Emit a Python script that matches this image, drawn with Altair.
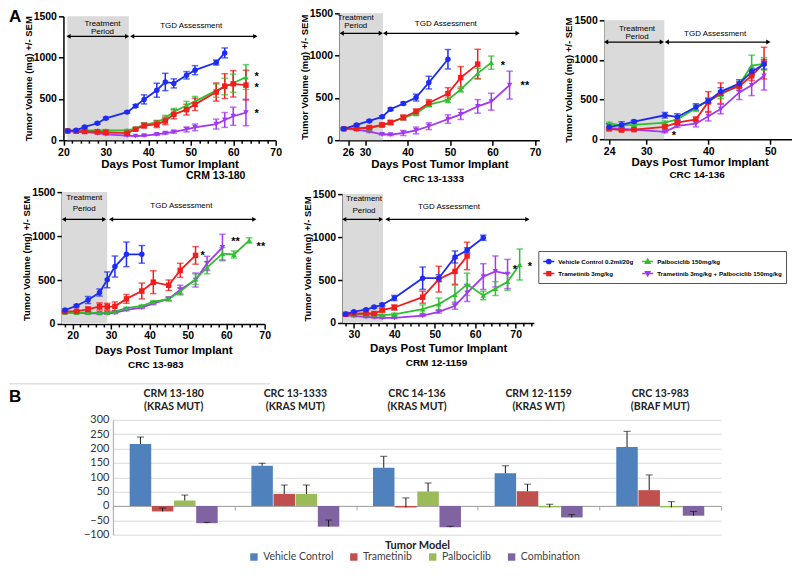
import altair as alt
import pandas as pd

FONT = "Liberation Sans"
BFONT = "Lato"
W, H = 784, 550  # drawing canvas (page minus 8px margin)

SERIES = ["Vehicle Control 0.2ml/20g", "Trametinib 3mg/kg", "Palbociclib 150mg/kg",
          "Trametinib 3mg/kg + Palbociclib 150mg/kg"]
LINE_COLORS = ["#1c2cf5", "#f21d1d", "#2fbf2f", "#a238f2"]
MARKERS = ["circle", "square", "triangle-up", "triangle-down"]
LEGEND_MARKERS = [
    "M-1,0L1,0M-0.38,0A0.38,0.38,0,1,1,0.38,0A0.38,0.38,0,1,1,-0.38,0Z",
    "M-1,0L1,0M-0.34,-0.34L0.34,-0.34L0.34,0.34L-0.34,0.34Z",
    "M-1,0L1,0M0,-0.42L0.4,0.3L-0.4,0.3Z",
    "M-1,0L1,0M0,0.42L0.4,-0.3L-0.4,-0.3Z",
]

# ---------------- Panel A1 : CRM 13-180 ----------------
crm13180_days = [21, 23, 25, 28, 30, 35, 37, 39, 42, 44, 46, 49, 51, 56, 58, 60, 63]
crm13180_veh = [112, 120, 160, 205, 265, 340, 414, 494, 605, 705, 688, 786, 848, 940, 1057]
crm13180_veh_sem = [10, 10, 12, 12, 12, 12, 15, 55, 85, 105, 55, 45, 55, 30, 60]
crm13180_tra = [112, 108, 105, 100, 95, 85, 133, 177, 193, 233, 313, 370, 434, 583, 655, 683, 667]
crm13180_tra_sem = [8, 8, 8, 8, 8, 8, 15, 30, 40, 45, 55, 65, 75, 110, 150, 160, 180]
crm13180_pal = [112, 118, 120, 120, 120, 120, 140, 190, 215, 270, 345, 420, 470, 600, 650, 690, 765]
crm13180_pal_sem = [8, 8, 8, 8, 8, 10, 15, 20, 25, 30, 40, 50, 60, 80, 100, 110, 150]
crm13180_com = [110, 102, 97, 85, 70, 55, 50, 55, 70, 85, 100, 130, 155, 195, 245, 290, 335]
crm13180_com_sem = [5, 5, 5, 5, 5, 5, 5, 8, 10, 12, 15, 30, 40, 60, 90, 110, 160]
crm13180_treatment = [20.9, 35.4]
crm13180_arrow_from = [21.2, 36.2]
crm13180_arrow_to = [35.0, 65.2]
crm13180_arrow_level = [1258, 1258]
crm13180_notes = ["Treatment", "Period", "TGD Assessment"]
crm13180_notes_day = [29.2, 29.2, 50.1]
crm13180_notes_vol = [1410, 1307, 1379]
crm13180_stars = ["*", "*", "*"]
crm13180_stars_day = [65, 65, 65]
crm13180_stars_vol = [802, 665, 351]

# ---------------- Panel A2 : CRC 13-1333 ----------------
crc131333_days = [25, 28, 31, 34, 36, 39, 42, 45, 49.5, 52.5, 56.5, 59.7, 64]
crc131333_veh = [135, 181, 228, 276, 366, 433, 504, 681, 957]
crc131333_veh_sem = [10, 10, 10, 12, 15, 15, 40, 75, 115]
crc131333_tra = [135, 138, 150, 181, 209, 268, 339, 440, 551, 740, 900]
crc131333_tra_sem = [10, 10, 15, 20, 25, 30, 30, 40, 70, 130, 175]
crc131333_pal = [135, 135, 140, 175, 210, 265, 315, 420, 475, 600, 790, 917]
crc131333_pal_sem = [10, 10, 10, 12, 15, 20, 25, 25, 30, 30, 60, 78]
crc131333_com = [135, 125, 100, 70, 65, 85, 115, 165, 250, 305, 400, 455, 651]
crc131333_com_sem = [10, 8, 8, 8, 10, 30, 40, 40, 50, 60, 80, 100, 165]
crc131333_treatment = [24, 34.2]
crc131333_arrow_from = [24.5, 34.7]
crc131333_arrow_to = [33.7, 65.9]
crc131333_arrow_level = [1264, 1264]
crc131333_notes = ["Treatment", "Period", "TGD Assessment"]
crc131333_notes_day = [27.8, 27.8, 49]
crc131333_notes_vol = [1444, 1346, 1378]
crc131333_stars = ["*", "**"]
crc131333_stars_day = [61.9, 66.6]
crc131333_stars_vol = [913, 677]

# ---------------- Panel A3 : CRC 14-136 ----------------
crc14136_days = [24, 26, 28, 33, 35, 38, 40, 42, 45, 47, 49]
crc14136_veh = [155, 180, 223, 302, 281, 407, 483, 600, 701, 853, 945]
crc14136_veh_sem = [40, 40, 15, 35, 40, 40, 30, 50, 50, 40, 60]
crc14136_tra = [130, 115, 120, 155, 210, 250, 470, 580, 670, 800, 960]
crc14136_tra_sem = [10, 10, 10, 25, 30, 30, 130, 130, 50, 60, 200]
crc14136_pal = [200, 175, 180, 210, 250, 390, 490, 560, 690, 930, 950]
crc14136_pal_sem = [15, 15, 15, 20, 25, 40, 30, 50, 40, 130, 80]
crc14136_com = [140, 130, 120, 92, 168, 195, 290, 380, 590, 680, 800]
crc14136_com_sem = [10, 10, 10, 10, 20, 40, 60, 60, 90, 130, 180]
crc14136_treatment = [23.2, 32.9]
crc14136_arrow_from = [23.5, 33.3]
crc14136_arrow_to = [32.5, 49.7]
crc14136_arrow_level = [1226, 1226]
crc14136_notes = ["Treatment", "Period", "TGD Assessment"]
crc14136_notes_day = [28.5, 28.5, 41.1]
crc14136_notes_vol = [1395, 1289, 1332]
crc14136_stars = ["*"]
crc14136_stars_day = [34.1]
crc14136_stars_vol = [72]

# ---------------- Panel A4 : CRC 13-983 ----------------
crc13983_days = [18, 21, 24, 27, 29, 31, 34, 38, 41, 45, 48, 52, 55, 59, 62, 66]
crc13983_veh = [158, 207, 272, 358, 502, 653, 792, 792]
crc13983_veh_sem = [10, 12, 40, 40, 90, 120, 140, 100]
crc13983_tra = [140, 145, 165, 200, 195, 200, 285, 375, 475, 440, 610, 780]
crc13983_tra_sem = [10, 10, 30, 40, 40, 50, 50, 90, 130, 60, 80, 100]
crc13983_pal = [130, 130, 130, 125, 130, 140, 180, 205, 250, 285, 370, 510, 640, 800, 790, 950]
crc13983_pal_sem = [8, 8, 8, 8, 8, 10, 10, 10, 15, 20, 40, 60, 70, 70, 40, 30]
crc13983_com = [130, 125, 120, 120, 120, 125, 160, 185, 235, 285, 390, 500, 690, 870]
crc13983_com_sem = [8, 8, 8, 8, 8, 8, 10, 10, 15, 20, 50, 80, 80, 150]
crc13983_treatment = [17.2, 29]
crc13983_arrow_from = [17.7, 30]
crc13983_arrow_to = [28.2, 67.3]
crc13983_arrow_level = [1190, 1190]
crc13983_notes = ["Treatment", "Period", "TGD Assessment"]
crc13983_notes_day = [23, 23, 48.3]
crc13983_notes_vol = [1428, 1303, 1341]
crc13983_stars = ["*", "**", "**"]
crc13983_stars_day = [53.3, 61.3, 67.9]
crc13983_stars_vol = [810, 962, 906]

# ---------------- Panel A5 : CRM 12-1159 ----------------
crm121159_days = [28, 30, 33, 35, 37, 40, 47, 51, 55, 58, 62, 65, 68, 71]
crm121159_veh = [104, 131, 154, 185, 212, 290, 521, 521, 768, 846, 992]
crm121159_veh_sem = [10, 10, 10, 10, 15, 30, 130, 40, 70, 30, 30]
crm121159_tra = [100, 110, 110, 110, 150, 180, 300, 510, 600, 780]
crm121159_tra_sem = [10, 10, 10, 15, 20, 30, 70, 150, 150, 160]
crm121159_pal = [100, 100, 100, 95, 90, 100, 160, 220, 330, 450, 320, 400, 480, 680]
crm121159_pal_sem = [10, 10, 10, 10, 10, 15, 50, 70, 110, 130, 50, 80, 100, 180]
crm121159_com = [90, 80, 70, 65, 60, 60, 85, 130, 200, 350, 540, 600, 570]
crm121159_com_sem = [8, 8, 8, 8, 8, 8, 10, 15, 40, 100, 150, 180, 170]
crm121159_treatment = [27.2, 37.2]
crm121159_arrow_from = [27.6, 38.3]
crm121159_arrow_to = [36.7, 72.9]
crm121159_arrow_level = [1206, 1206]
crm121159_notes = ["Treatment", "Period", "TGD Assessment"]
crm121159_notes_day = [32.5, 32.5, 53.5]
crm121159_notes_vol = [1439, 1303, 1349]
crm121159_stars = ["*", "*"]
crm121159_stars_day = [69.3, 73]
crm121159_stars_vol = [651, 690]

# ---------------- Panel B : TGD bar chart ----------------
BAR_MODELS = ["CRM 13-180", "CRC 13-1333", "CRC 14-136", "CRM 12-1159", "CRC 13-983"]
BAR_MUTATION = ["(KRAS MUT)", "(KRAS MUT)", "(KRAS MUT)", "(KRAS WT)", "(BRAF MUT)"]
TREATMENTS = ["Vehicle Control", "Trametinib", "Palbociclib", "Combination"]
BAR_COLORS = ["#4f81bd", "#c0504d", "#9bbb59", "#8064a2"]
tgd_vehicle = [216, 140, 133, 114, 205]
tgd_vehicle_err = [24, 9, 40, 26, 55]
tgd_trametinib = [-19, 42, -5, 51, 55]
tgd_trametinib_err = [12, 31, 33, 25, 53]
tgd_palbociclib = [19, 42, 50, -5, -5]
tgd_palbociclib_err = [19, 31, 30, 11, 20]
tgd_combination = [-60, -72, -74, -40, -34]
tgd_combination_err = [3, 23, 3, 10, 15]


def make_df(days, means_list, sems_list):
    rows = []
    for s, means, sems in reversed(list(zip(SERIES, means_list, sems_list))):
        for d, m, e in zip(days, means, sems):
            rows.append({"group": s, "day": d, "mean": m, "sem": e})
    return pd.DataFrame(rows)


def one_row():
    return pd.DataFrame({"k": [0]})


def line_panel(df, xdom, xrange, yrange, ticks, labelled, title_pad, shade, arrows, notes, stars,
               sub, legend_pos=None):
    xs = alt.Scale(domain=xdom, range=xrange, nice=False, zero=False)
    ys = alt.Scale(domain=[0, 1500], range=yrange, nice=False, zero=False)
    test = " || ".join(f"datum.value == {v}" for v in labelled)
    xaxis = alt.Axis(orient="bottom", offset=yrange[0] - H, values=ticks,
                     labelExpr=f"({test}) ? datum.label : ''", title="Days Post Tumor Implant",
                     tickSize={"condition": {"test": test, "value": 5}, "value": 3},
                     grid=False, domainColor="black", domainWidth=1.5, tickColor="black",
                     tickWidth=1.5, labelFont=FONT, labelFontWeight="bold", labelFontSize=10.5,
                     labelColor="black", labelPadding=2, labelFlush=False, labelOverlap=False,
                     titleFont=FONT, titleFontWeight="bold", titleFontSize=11.5,
                     titleColor="black", titlePadding=title_pad)
    yaxis = alt.Axis(orient="left", offset=-xrange[0], values=[0, 500, 1000, 1500], format="d",
                     title="Tumor Volume (mg) +/- SEM", grid=False,
                     domainColor="black", domainWidth=1.5, tickColor="black", tickWidth=1.5,
                     tickSize=5, labelFont=FONT, labelFontWeight="bold", labelFontSize=10.5,
                     labelColor="black", labelPadding=2, labelFlush=False, titleFont=FONT,
                     titleFontWeight="bold", titleFontSize=9.5, titleColor="black", titlePadding=0)

    def X(f):
        return alt.X(f, scale=xs, axis=xaxis)

    def Y(f):
        return alt.Y(f, scale=ys, axis=yaxis)

    cs = alt.Scale(domain=SERIES, range=LINE_COLORS)
    col = alt.Color("group:N", scale=cs, legend=None)

    shade_df = pd.DataFrame({"start": [shade[0]], "end": [shade[1]], "low": [0], "high": [1500]})
    shade_l = alt.Chart(shade_df).mark_rect(color="#dadada").encode(
        x=X("start:Q"), x2="end:Q", y=Y("low:Q"), y2="high:Q")

    arr_df = pd.DataFrame({"x1": arrows[0], "x2": arrows[1], "y": arrows[2]})
    arr_rule = alt.Chart(arr_df).mark_rule(color="black", strokeWidth=1.3).encode(
        x=X("x1:Q"), x2="x2:Q", y=Y("y:Q"))
    head_l = alt.Chart(arr_df).mark_point(shape="triangle-left", filled=True, color="black",
                                          size=24, opacity=1).encode(x=X("x1:Q"), y=Y("y:Q"))
    head_r = alt.Chart(arr_df).mark_point(shape="triangle-right", filled=True, color="black",
                                          size=24, opacity=1).encode(x=X("x2:Q"), y=Y("y:Q"))

    notes_df = pd.DataFrame({"t": notes[0], "x": notes[1], "y": notes[2]})
    notes_l = alt.Chart(notes_df).mark_text(font=FONT, fontSize=8, color="black").encode(
        x=X("x:Q"), y=Y("y:Q"), text="t:N")

    eb = alt.Chart(df).transform_calculate(lo="datum.mean - datum.sem", hi="datum.mean + datum.sem")
    err = eb.mark_rule(strokeWidth=1.5).encode(x=X("day:Q"), y=Y("lo:Q"), y2="hi:Q", color=col)
    caps = eb.transform_fold(["lo", "hi"], as_=["end", "v"]).mark_tick(
        orient="horizontal", size=6.5, thickness=1.5).encode(x=X("day:Q"), y=Y("v:Q"), color=col)
    lines = alt.Chart(df).mark_line(strokeWidth=1.8).encode(
        x=X("day:Q"), y=Y("mean:Q"), color=col)
    pts = alt.Chart(df).mark_point(filled=True, size=30, opacity=1).encode(
        x=X("day:Q"), y=Y("mean:Q"), color=col,
        shape=alt.Shape("group:N", scale=alt.Scale(domain=SERIES, range=MARKERS), legend=None))

    stars_df = pd.DataFrame({"t": stars[0], "x": stars[1], "y": stars[2]})
    stars_l = alt.Chart(stars_df).mark_text(font=FONT, fontSize=11, fontWeight="bold",
                                            align="left", dy=3, color="black").encode(
        x=X("x:Q"), y=Y("y:Q"), text="t:N")

    sub_l = alt.Chart(pd.DataFrame({"t": [sub[0]]})).mark_text(
        font=FONT, fontWeight="bold", fontSize=sub[3], color="black").encode(
        x=alt.value(sub[1]), y=alt.value(sub[2]), text="t:N")

    layers = [shade_l, arr_rule, head_l, head_r, notes_l, err, caps, lines, pts, stars_l, sub_l]

    if legend_pos is not None:
        leg = alt.Legend(orient="none", legendX=legend_pos[0], legendY=legend_pos[1], columns=2,
                         gridAlign="none", title=None, labelFont=FONT, labelFontWeight="bold",
                         labelFontSize=6.2, labelColor="black", labelOffset=3, labelLimit=400,
                         symbolSize=121, symbolStrokeWidth=1.5, strokeColor="#555555",
                         fillColor="white", padding=4, rowPadding=0, columnPadding=6)
        layers.append(alt.Chart(df).transform_filter("datum.day < 0").mark_point(
            filled=True, size=121, strokeWidth=1.5, opacity=1).encode(
            x=X("day:Q"), y=Y("mean:Q"),
            color=alt.Color("group:N", scale=cs, legend=leg),
            stroke=alt.Stroke("group:N", scale=cs, legend=leg),
            shape=alt.Shape("group:N", scale=alt.Scale(domain=SERIES, range=LEGEND_MARKERS),
                            legend=leg)))
        return alt.layer(*layers).resolve_scale(color="independent", stroke="independent",
                                                shape="independent")
    return alt.layer(*layers)


p1 = line_panel(
    make_df(crm13180_days, [crm13180_veh, crm13180_tra, crm13180_pal, crm13180_com],
            [crm13180_veh_sem, crm13180_tra_sem, crm13180_pal_sem, crm13180_com_sem]),
    [20, 70], [54.5, 267], [131, 7], list(range(20, 71, 2)), [20, 30, 40, 50, 60, 70], 1,
    crm13180_treatment, [crm13180_arrow_from, crm13180_arrow_to, crm13180_arrow_level],
    [crm13180_notes, crm13180_notes_day, crm13180_notes_vol],
    [crm13180_stars, crm13180_stars_day, crm13180_stars_vol],
    ("CRM 13-180", 207, 166.5, 10.5))

p2 = line_panel(
    make_df(crc131333_days, [crc131333_veh, crc131333_tra, crc131333_pal, crc131333_com],
            [crc131333_veh_sem, crc131333_tra_sem, crc131333_pal_sem, crc131333_com_sem]),
    [24, 71], [331, 531], [131, 4], [26, 30, 40, 50, 60, 70], [26, 30, 40, 50, 60, 70], 1,
    crc131333_treatment, [crc131333_arrow_from, crc131333_arrow_to, crc131333_arrow_level],
    [crc131333_notes, crc131333_notes_day, crc131333_notes_vol],
    [crc131333_stars, crc131333_stars_day, crc131333_stars_vol],
    ("CRC 13-1333", 425, 169.5, 10))

p3 = line_panel(
    make_df(crc14136_days, [crc14136_veh, crc14136_tra, crc14136_pal, crc14136_com],
            [crc14136_veh_sem, crc14136_tra_sem, crc14136_pal_sem, crc14136_com_sem]),
    [23.2, 54], [596, 787], [130, 11], [24, 30, 40, 50], [24, 30, 40, 50], 0,
    crc14136_treatment, [crc14136_arrow_from, crc14136_arrow_to, crc14136_arrow_level],
    [crc14136_notes, crc14136_notes_day, crc14136_notes_vol],
    [crc14136_stars, crc14136_stars_day, crc14136_stars_vol],
    ("CRC 14-136", 689, 166, 10))

p4 = line_panel(
    make_df(crc13983_days, [crc13983_veh, crc13983_tra, crc13983_pal, crc13983_com],
            [crc13983_veh_sem, crc13983_tra_sem, crc13983_pal_sem, crc13983_com_sem]),
    [17.2, 70], [53, 256], [315, 183], list(range(18, 71, 2)), [20, 30, 40, 50, 60, 70], 3,
    crc13983_treatment, [crc13983_arrow_from, crc13983_arrow_to, crc13983_arrow_level],
    [crc13983_notes, crc13983_notes_day, crc13983_notes_vol],
    [crc13983_stars, crc13983_stars_day, crc13983_stars_vol],
    ("CRC 13-983", 147, 356, 10))

p5 = line_panel(
    make_df(crm121159_days, [crm121159_veh, crm121159_tra, crm121159_pal, crm121159_com],
            [crm121159_veh_sem, crm121159_tra_sem, crm121159_pal_sem, crm121159_com_sem]),
    [27.2, 74.5], [334, 525.5], [314, 185], list(range(28, 75, 2)), [30, 40, 50, 60, 70], 2,
    crm121159_treatment, [crm121159_arrow_from, crm121159_arrow_to, crm121159_arrow_level],
    [crm121159_notes, crm121159_notes_day, crm121159_notes_vol],
    [crm121159_stars, crm121159_stars_day, crm121159_stars_vol],
    ("CRM 12-1159", 428, 354, 10), legend_pos=(530, 242))

# ---------------- bar chart ----------------
bar_rows = []
for vals, errs, t in zip([tgd_vehicle, tgd_trametinib, tgd_palbociclib, tgd_combination],
                         [tgd_vehicle_err, tgd_trametinib_err, tgd_palbociclib_err,
                          tgd_combination_err], TREATMENTS):
    for m, v, e in zip(BAR_MODELS, vals, errs):
        bar_rows.append({"model": m, "treat": t, "val": v, "err": e})
bar_df = pd.DataFrame(bar_rows)

BAR_Y0, BAR_Y1 = 526, 411  # pixel range for -100 .. 300
zero_px = BAR_Y0 + (BAR_Y1 - BAR_Y0) * 100 / 400
bx_axis = alt.Axis(orient="bottom", offset=zero_px - H, title="Tumor Model", labels=False,
                   ticks=True, tickBand="extent", tickSize=4, tickColor="#a6a6a6",
                   domainColor="#a6a6a6", grid=False, titleFont=BFONT, titleFontSize=11,
                   titleFontWeight="bold", titleColor="#222222", titlePadding=29)
by_axis = alt.Axis(orient="left", offset=-104, values=list(range(-100, 301, 50)), grid=True,
                   gridColor="#d9d9d9", domainColor="#a6a6a6", ticks=False, labelFont=BFONT,
                   labelFontSize=11, labelColor="#333333", labelPadding=4, title=None)
bxs = alt.Scale(domain=BAR_MODELS, range=[104, 713], paddingInner=0, paddingOuter=0)
bys = alt.Scale(domain=[-100, 300], range=[BAR_Y0, BAR_Y1], nice=False, zero=False)
BX = alt.X("model:N", sort=BAR_MODELS, scale=bxs, axis=bx_axis)
BXO = alt.XOffset("treat:N", sort=TREATMENTS,
                  scale=alt.Scale(domain=TREATMENTS, paddingInner=0.03, paddingOuter=0.76))

bars = alt.Chart(bar_df).mark_bar().encode(
    x=BX, xOffset=BXO, y=alt.Y("val:Q", scale=bys, axis=by_axis), y2=alt.datum(0),
    color=alt.Color("treat:N", sort=TREATMENTS, scale=alt.Scale(domain=TREATMENTS, range=BAR_COLORS),
                    legend=alt.Legend(orient="none", legendX=240, legendY=543, direction="horizontal",
                                      title=None, symbolType="square", symbolSize=55,
                                      symbolStrokeWidth=0, labelFont=BFONT, labelFontSize=10.5,
                                      labelColor="#404040", columnPadding=15, labelOffset=4)))
bar_eb = alt.Chart(bar_df).transform_calculate(cap="datum.val + datum.err")
bar_err = bar_eb.mark_rule(color="#1a1a1a", strokeWidth=1).encode(
    x=BX, xOffset=BXO, y=alt.Y("val:Q", scale=bys, axis=by_axis), y2="cap:Q")
bar_cap = bar_eb.mark_tick(orient="horizontal", size=7, thickness=1, color="#1a1a1a").encode(
    x=BX, xOffset=BXO, y=alt.Y("cap:Q", scale=bys, axis=by_axis))

title_df = pd.DataFrame({"model": BAR_MODELS, "mut": BAR_MUTATION})
t1 = alt.Chart(title_df).mark_text(font=BFONT, fontSize=10.5, fontWeight="bold", color="#222222").encode(
    x=BX, y=alt.value(385), text="model:N")
t2 = alt.Chart(title_df).mark_text(font=BFONT, fontSize=10.5, fontWeight="bold", color="#222222").encode(
    x=BX, y=alt.value(398), text="mut:N")

bar_chart = alt.layer(bars, bar_err, bar_cap, t1, t2)

# ---------------- decorations ----------------
sep = alt.Chart(one_row()).mark_rule(color="#d0d0d0", strokeWidth=1).encode(
    x=alt.value(0), x2=alt.value(262), y=alt.value(375), y2=alt.value(375))
a_letter = alt.Chart(one_row()).mark_text(align="left", baseline="top", font=FONT, fontSize=17,
                                          fontWeight="bold", color="black").encode(
    x=alt.value(0), y=alt.value(0), text=alt.value("A"))
b_letter = alt.Chart(one_row()).mark_text(align="left", baseline="top", font=FONT, fontSize=17,
                                          fontWeight="bold", color="black").encode(
    x=alt.value(0), y=alt.value(380), text=alt.value("B"))

chart = alt.layer(p1, p2, p3, p4, p5, bar_chart, sep, a_letter, b_letter).resolve_scale(
    x="independent", y="independent", color="independent", shape="independent",
    stroke="independent", xOffset="independent"
).resolve_axis(x="independent", y="independent").properties(
    width=W, height=H, padding=0, background="white"
).configure_view(stroke=None)

chart.save("out.html", embed_options={"renderer": "svg", "actions": False})
